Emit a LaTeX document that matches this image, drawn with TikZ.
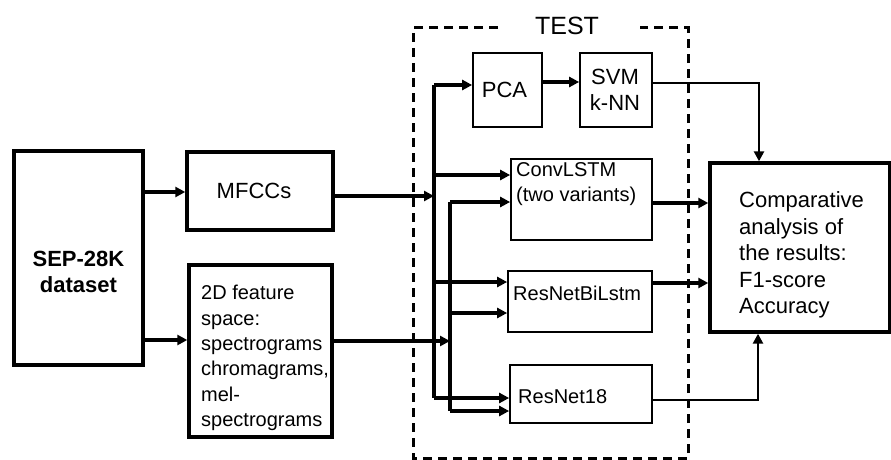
\documentclass[tikz,border=0pt]{standalone}
\usepackage{fontspec}
\setmainfont{Liberation Sans}
\usetikzlibrary{arrows.meta}
\begin{document}
\begin{tikzpicture}[x=1pt,y=-1pt,
  thickbox/.style={draw, line width=3.4pt, inner sep=0pt, rectangle},
  thinbox/.style={draw, line width=1.7pt, inner sep=0pt, rectangle},
  conn/.style={line width=3.2pt},
  arr/.style={line width=3.2pt, -{Triangle[length=10pt,width=10pt]}},
  tarr/.style={line width=2.5pt, -{Triangle[length=10pt,width=10pt]}},
  txt/.style={inner sep=0pt, align=left, font=\fontsize{22}{26.5}\selectfont},
  stxt/.style={inner sep=0pt, align=left, font=\fontsize{20}{25}\selectfont},
  testframe/.style={line width=3pt, dash pattern=on 9pt off 6pt},
]
\useasboundingbox (0,0) rectangle (891,460);

% test frame
\draw[testframe] (498,28) -- (413,28) -- (413,458) -- (688,458) -- (688,28) -- (640,28);
\node[inner sep=0pt, font=\fontsize{25}{30}\selectfont] (test) at (567,26) {TEST};

% boxes
\node[thickbox, minimum width=129pt, minimum height=214pt] (sep) at (78.5,258) {};
\node[thickbox, minimum width=146pt, minimum height=78pt] (mfcc) at (260,191) {};
\node[thickbox, minimum width=143pt, minimum height=172pt] (fd) at (260.5,351) {};
\node[thinbox, minimum width=69pt, minimum height=74pt] (pca) at (507.5,90) {};
\node[thinbox, minimum width=72pt, minimum height=74pt] (svm) at (616,90) {};
\node[thinbox, minimum width=141pt, minimum height=81pt] (conv) at (581.5,199.5) {};
\node[thinbox, minimum width=144pt, minimum height=61pt] (bil) at (580,301.5) {};
\node[thinbox, minimum width=142pt, minimum height=58pt] (res) at (581,394) {};
\node[thickbox, minimum width=180pt, minimum height=169pt] (comp) at (800,247.5) {};

% texts
\node[txt, align=center, font=\bfseries\fontsize{22}{26.5}\selectfont] (septxt) at (78.5,272) {SEP-28K\\dataset};
\node[txt] (mfcctxt) at (254,191) {MFCCs};
\node[inner sep=0pt, align=left, font=\fontsize{20}{25.4}\selectfont, anchor=west] (fdtxt) at (201,358) {2D feature\\space:\\spectrograms\\chromagrams,\\mel-\\spectrograms};
\node[txt] (pcatxt) at (504.5,90) {PCA};
\node[txt, align=center] (svmtxt) at (615,90) {SVM\\k-NN};
\node[stxt, anchor=west] (convtxt) at (516,184.5) {ConvLSTM\\(two variants)};
\node[stxt, anchor=west] (biltxt) at (513,293) {ResNetBiLstm};
\node[stxt, anchor=west] (restxt) at (518,397) {ResNet18};
\node[txt, anchor=west] (comptxt) at (739,255) {Comparative\\analysis of\\the results:\\F1-score\\Accuracy};

% bus coordinates
\coordinate (b1) at (434,85);
\coordinate (b1b) at (434,398);
\coordinate (b2) at (450,202);
\coordinate (b2b) at (450,411);
\coordinate (m) at (0,196);
\coordinate (f) at (0,341);
\coordinate (s1) at (0,192);
\coordinate (s2) at (0,340);
\coordinate (y175) at (0,175);
\coordinate (y282) at (0,282);
\coordinate (y313) at (0,313);
\coordinate (y82) at (0,82);
\coordinate (y203) at (0,203);
\coordinate (y283) at (0,283);
\coordinate (c1) at (759,83);
\coordinate (c2) at (758,400);

% connectors
\draw[arr] (sep.east |- s1) -- (mfcc.west |- s1);
\draw[arr] (sep.east |- s2) -- (fd.west |- s2);
\draw[arr] (mfcc.east |- m) -- (b1 |- m);
\draw[arr] (fd.east |- f) -- (b2 |- f);
\draw[conn] (b1) -- (b1b);
\draw[conn] (b2) -- (b2b);
\draw[arr] (b1) -- (pca.west |- b1);
\draw[arr] (b1 |- y175) -- (conv.west |- y175);
\draw[arr] (b1 |- y282) -- (bil.west |- y282);
\draw[arr] (b1b) -- (res.west |- b1b);
\draw[arr] (b2) -- (conv.west |- b2);
\draw[arr] (b2 |- y313) -- (bil.west |- y313);
\draw[arr] (b2b) -- (res.west |- b2b);
\draw[arr] (pca.east |- y82) -- (svm.west |- y82);
\draw[tarr] (svm.east |- c1) -- (c1) -- (c1 |- comp.north);
\draw[arr] (conv.east |- y203) -- (comp.west |- y203);
\draw[arr] (bil.east |- y283) -- (comp.west |- y283);
\draw[tarr] (res.east |- c2) -- (c2) -- (c2 |- comp.south);
\end{tikzpicture}
\end{document}
